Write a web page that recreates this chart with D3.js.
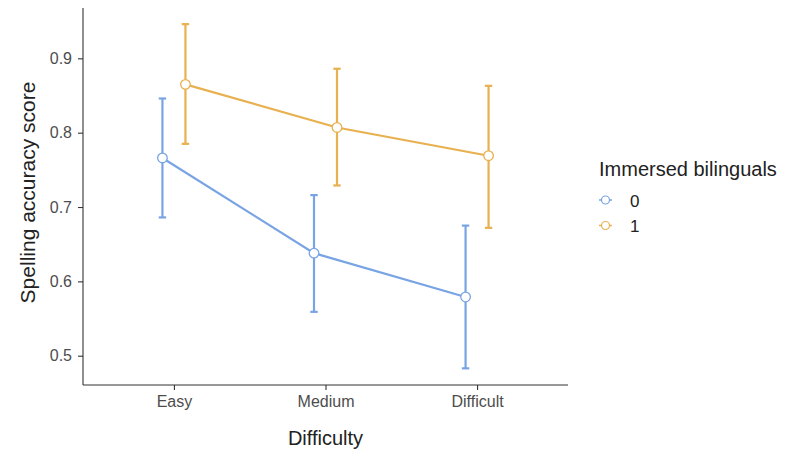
<!DOCTYPE html>
<html><head><meta charset="utf-8">
<script src="https://cdn.jsdelivr.net/npm/d3@7"></script>
<style>body{margin:0;background:#fff;} text{font-family:"Liberation Sans",Arial,sans-serif;}</style>
</head><body><svg id="c" width="792" height="450"></svg>
<script>
const categories = ["Easy","Medium","Difficult"];
const groups = ["0","1"];
const mean0 = [0.766, 0.638, 0.579];
const lo0   = [0.686, 0.559, 0.483];
const hi0   = [0.846, 0.716, 0.675];
const mean1 = [0.865, 0.807, 0.769];
const lo1   = [0.785, 0.729, 0.672];
const hi1   = [0.946, 0.886, 0.863];
const yTicks = [0.5, 0.6, 0.7, 0.8, 0.9];
const colors = ["#79a4e4", "#e8b04f"];

const series = [
  {key: groups[0], mean: mean0, lo: lo0, hi: hi0, color: colors[0], dodge: -1},
  {key: groups[1], mean: mean1, lo: lo1, hi: hi1, color: colors[1], dodge: 1}
];

const svg = d3.select("#c");
const L = 83, R = 568, T = 8, B = 385;
const unit = (R - L) / 3.2;
const x = d3.scaleOrdinal().domain(categories).range(categories.map((c, i) => L + (0.6 + i) * unit));
const y = d3.scaleLinear().domain([0.4606, 0.9677]).range([B, T]);
const dodgeW = 11.5;

// axes
const yAxis = d3.axisLeft(y).tickValues(yTicks).tickFormat(d3.format(".1f")).tickSize(5).tickPadding(6);
const gy = svg.append("g").attr("transform", `translate(${L},0)`).call(yAxis);
gy.select(".domain").attr("d", `M0,${T}V${B}`);
const xAxis = d3.axisBottom(x).tickSize(5).tickPadding(6);
const gx = svg.append("g").attr("transform", `translate(0,${B})`).call(xAxis);
gx.select(".domain").attr("d", `M${L},0H${R}`);
[gx, gy].forEach(g => {
  g.select(".domain").attr("stroke", "#333").attr("stroke-width", 1.1);
  g.selectAll(".tick line").attr("stroke", "#333").attr("stroke-width", 1.1);
  g.selectAll(".tick text").attr("fill", "#4d4d4d").attr("font-size", 16).attr("font-family", "Liberation Sans, Arial, sans-serif");
});

// series
series.forEach(s => {
  const g = svg.append("g");
  const px = i => x(categories[i]) + s.dodge * dodgeW;
  const idx = d3.range(categories.length);
  g.append("path").datum(idx)
    .attr("d", d3.line().x(px).y(i => y(s.mean[i])))
    .attr("fill", "none").attr("stroke", s.color).attr("stroke-width", 2.2);
  idx.forEach(i => {
    g.append("line").attr("x1", px(i)).attr("x2", px(i)).attr("y1", y(s.lo[i])).attr("y2", y(s.hi[i]))
      .attr("stroke", s.color).attr("stroke-width", 2.2);
    [s.lo[i], s.hi[i]].forEach(v => {
      g.append("line").attr("x1", px(i) - 3.7).attr("x2", px(i) + 3.7).attr("y1", y(v)).attr("y2", y(v))
        .attr("stroke", s.color).attr("stroke-width", 2.2);
    });
  });
  g.selectAll("circle").data(idx).join("circle")
    .attr("cx", px).attr("cy", i => y(s.mean[i])).attr("r", 4.8)
    .attr("fill", "#fff").attr("stroke", s.color).attr("stroke-width", 1.3);
});

// axis titles
svg.append("text").attr("x", (L + R) / 2).attr("y", 445).attr("text-anchor", "middle")
  .attr("font-size", 20).attr("fill", "#222").text("Difficulty");
svg.append("text").attr("transform", `translate(35,192.5) rotate(-90)`).attr("text-anchor", "middle")
  .attr("font-size", 21).attr("fill", "#222").text("Spelling accuracy score");

// legend
const lg = svg.append("g");
lg.append("text").attr("x", 599).attr("y", 176).attr("font-size", 20).attr("fill", "#222").text("Immersed bilinguals");
series.forEach((s, k) => {
  const cy = 200 + k * 25.5;
  lg.append("line").attr("x1", 599).attr("x2", 612).attr("y1", cy).attr("y2", cy).attr("stroke", s.color).attr("stroke-width", 1.5);
  lg.append("circle").attr("cx", 605.5).attr("cy", cy).attr("r", 4).attr("fill", "#fff").attr("stroke", s.color).attr("stroke-width", 1.2);
  lg.append("text").attr("x", 630).attr("y", cy + 6.5).attr("font-size", 17).attr("fill", "#222").text(s.key);
});
</script></body></html>
